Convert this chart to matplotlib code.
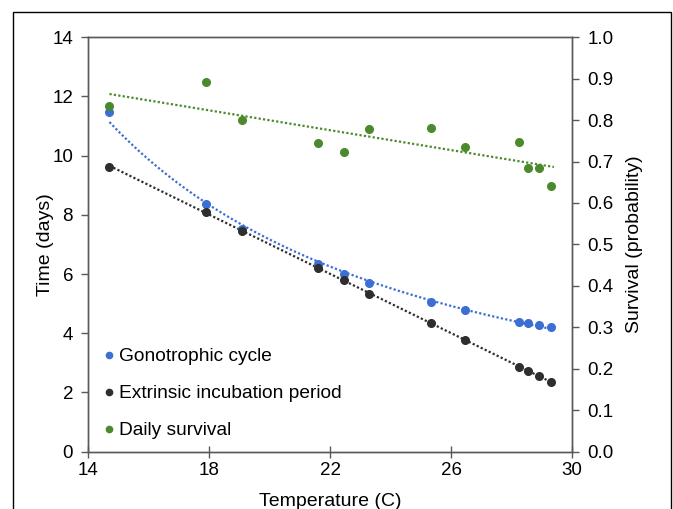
import numpy as np
import matplotlib
matplotlib.use("Agg")
import matplotlib.pyplot as plt
from matplotlib.lines import Line2D
from matplotlib.patches import Rectangle

plt.rcParams['font.family'] = ['Liberation Sans', 'DejaVu Sans']

temperature = [14.7, 17.9, 19.1, 21.6, 22.45, 23.3, 25.35, 26.45, 28.25, 28.55, 28.9, 29.3]
gonotrophic = [11.46, 8.37, 7.52, 6.33, 6.00, 5.69, 5.07, 4.79, 4.39, 4.35, 4.27, 4.21]
extrinsic = [9.63, 8.08, 7.47, 6.20, 5.79, 5.33, 4.35, 3.77, 2.87, 2.73, 2.55, 2.36]
survival = [0.835, 0.891, 0.799, 0.744, 0.724, 0.778, 0.781, 0.734, 0.747, 0.685, 0.685, 0.641]

series_labels = ["Gonotrophic cycle", "Extrinsic incubation period", "Daily survival"]
x_ticks = [14, 18, 22, 26, 30]
y_ticks = [0, 2, 4, 6, 8, 10, 12, 14]
y2_ticks = [0.0, 0.1, 0.2, 0.3, 0.4, 0.5, 0.6, 0.7, 0.8, 0.9, 1.0]

c_blue = '#3b6fd4'
c_black = '#2e2e2e'
c_green = '#4b8a2c'
spine_c = '#595959'

fig = plt.figure(figsize=(6.73, 5.09), dpi=100)
ax = fig.add_axes([0.1312, 0.1126, 0.7188, 0.8144])
ax2 = ax.twinx()

T = np.array(temperature)
tt = np.linspace(T.min(), T.max(), 200)

# trendlines
bp = np.polyfit(np.log(T), np.log(gonotrophic), 1)
ax.plot(tt, np.exp(bp[1]) * tt ** bp[0], color=c_blue, lw=1.6, ls=(0, (1, 1)), zorder=2)
kp = np.polyfit(T, extrinsic, 1)
ax.plot(tt, np.polyval(kp, tt), color=c_black, lw=1.6, ls=(0, (1, 1)), zorder=2)
gp = np.polyfit(T, survival, 1)
tg = np.linspace(T.min(), T.max() + 0.1, 200)
ax2.plot(tg, np.polyval(gp, tg), color=c_green, lw=1.6, ls=(0, (1, 1)), zorder=2)

ax.plot(T, gonotrophic, 'o', color=c_blue, ms=5.5, zorder=3)
ax.plot(T, extrinsic, 'o', color=c_black, ms=5.5, zorder=3)
ax2.plot(T, survival, 'o', color=c_green, ms=5.5, zorder=3)

ax.set_xlim(14, 30)
ax.set_ylim(0, 14)
ax2.set_ylim(0, 1.0)
ax.set_xticks(x_ticks)
ax.set_yticks(y_ticks)
ax2.set_yticks(y2_ticks)
ax2.set_yticklabels([f"{v:.1f}" for v in y2_ticks])

for a in (ax, ax2):
    for s in a.spines.values():
        s.set_color(spine_c)
        s.set_linewidth(1.0)
ax.tick_params(axis='y', direction='out', length=5, width=1, color=spine_c, labelsize=13.5, pad=6)
ax2.tick_params(axis='y', direction='out', length=5, width=1, color=spine_c, labelsize=13.5, pad=6)
ax.tick_params(axis='x', direction='inout', length=9, width=1, color=spine_c, labelsize=13.5, pad=3)

ax.set_xlabel("Temperature (C)", fontsize=14, labelpad=10)
ax.set_ylabel("Time (days)", fontsize=14, labelpad=-1)
ax2.set_ylabel("Survival (probability)", fontsize=14, labelpad=9)

handles = [Line2D([], [], ls='none', marker='o', color=c, ms=4.5) for c in (c_blue, c_black, c_green)]
ax.legend(handles, series_labels, loc='upper left', bbox_to_anchor=(0.027, 0.25),
          frameon=False, fontsize=13.8, handlelength=0.8, handletextpad=0.12,
          labelspacing=1.02, borderpad=0, borderaxespad=0)

fig.add_artist(Rectangle((0.0193, -0.02), 0.977, 0.996, transform=fig.transFigure,
                         fill=False, edgecolor='black', lw=1.0))

fig.savefig("out.png", dpi=100)
